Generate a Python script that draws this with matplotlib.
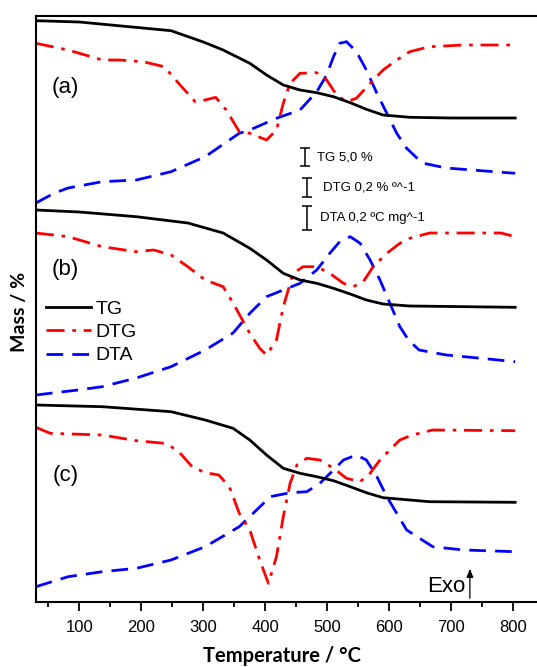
import matplotlib
matplotlib.use("Agg")
import matplotlib.pyplot as plt

# ---- data (temperature in degC, signal in arbitrary display units, increasing downward) ----
tg_a_T = [30, 100, 248, 300, 332, 375, 402, 429, 456, 483, 510, 537, 563, 590, 633, 700, 803]
tg_a_y = [20.7, 22, 30.7, 42, 50, 63.3, 75, 85, 90, 92.7, 96.7, 102.7, 109.3, 115, 117.3, 118, 118]
dtg_a_T = [30, 82, 137, 165, 203, 237, 265, 287, 303, 320, 337, 358, 375, 402, 418, 429, 440, 456, 483, 499,
           515, 531, 547, 569, 590, 612, 633, 665, 720, 803]
dtg_a_y = [43.3, 50, 60, 60, 61.7, 66.7, 86.7, 101.7, 100, 97.3, 110, 131.7, 133.3, 140, 130, 103.3, 83.3, 73.3,
           72.7, 80, 95, 101.7, 98.3, 83.3, 70, 60, 51.7, 46.7, 45, 45]
dta_a_T = [30, 60, 82, 137, 192, 248, 303, 358, 375, 418, 456, 483, 499, 510, 520, 531, 547, 563, 580, 596,
           612, 628, 653, 692, 748, 803]
dta_a_y = [203, 193, 188, 181.7, 180, 171.7, 156.7, 133.3, 130, 118.3, 110, 91.7, 75, 56.7, 43.3, 41.7, 51.7,
           70, 93.3, 113.3, 133.3, 148.3, 163, 168, 170.7, 173.3]

tg_b_T = [30, 100, 192, 275, 332, 375, 402, 429, 456, 483, 510, 537, 563, 590, 633, 803]
tg_b_y = [210, 212, 216.7, 223, 233, 248.3, 260, 273.3, 280, 283.3, 288.3, 294, 300, 304, 306, 307.3]
dtg_b_T = [30, 82, 137, 192, 220, 248, 275, 303, 332, 348, 375, 391, 402, 418, 429, 445, 461, 483, 504, 526,
           542, 558, 574, 596, 617, 633, 665, 780, 803]
dtg_b_y = [233, 236.7, 246.7, 251.7, 250, 255, 266.7, 280, 286.7, 303, 333.3, 348.3, 355, 340, 306.7, 273.3,
           266.7, 266.7, 273.3, 283.3, 286.7, 281.7, 266.7, 253.3, 243.3, 238.3, 233, 233, 236.7]
dta_b_T = [30, 98, 137, 192, 248, 303, 348, 375, 402, 429, 456, 483, 504, 520, 537, 553, 569, 585, 601, 617,
           631, 648, 692, 748, 803]
dta_b_y = [395, 390, 386.7, 378, 366.7, 350, 333, 313.3, 296.7, 290, 283.3, 270, 253.3, 241.7, 236.7, 243.3,
           260, 280, 303.3, 326.7, 340, 350, 355, 358.3, 361.7]

tg_c_T = [30, 137, 248, 303, 348, 375, 402, 429, 456, 483, 510, 537, 563, 590, 633, 665, 803]
tg_c_y = [405, 406.7, 411.7, 420, 428.3, 440, 455, 468.3, 473.3, 476.7, 480.7, 486.7, 492.7, 497.7, 500,
          501.7, 502.3]
dtg_c_T = [30, 53, 137, 192, 237, 258, 282, 303, 325, 342, 358, 375, 391, 405, 418, 429, 440, 451, 467, 488,
           510, 531, 553, 569, 585, 606, 617, 637, 670, 803]
dtg_c_y = [427.3, 433.3, 435, 440.7, 443.3, 450, 466.7, 472.7, 475, 486.7, 513.3, 530, 560, 583.3, 556.7,
           516.7, 483.3, 465, 458.3, 460, 468.3, 478.3, 481.7, 473.3, 460, 446.7, 440, 435, 430, 430.7]
dta_c_T = [30, 82, 137, 192, 248, 303, 358, 386, 408, 440, 467, 488, 510, 526, 547, 563, 580, 596, 612, 628,
           670, 720, 803]
dta_c_y = [586.7, 576.7, 571.7, 568.3, 560, 546.7, 526.7, 510, 496.7, 492.7, 491.7, 483.3, 470, 460, 455, 460,
           476.7, 496.7, 513.3, 530, 546.7, 550, 551.7]

panel_labels = ["(a)", "(b)", "(c)"]
panel_label_pos = [(77, 87), (77, 269), (78.5, 476)]
legend_labels = ["TG", "DTG", "DTA"]
scale_texts = ["TG 5,0 %", "DTG 0,2 % \u00ba^-1", "DTA 0,2 \u00baC mg^-1"]
scale_bars = [(464, 148.3, 166), (467, 178.3, 196.7), (467, 206, 230)]
scale_text_T = [484, 492.6, 489]
xticks = [100, 200, 300, 400, 500, 600, 700, 800]
xminor = [50, 150, 250, 350, 450, 550, 650, 750]

# ---- figure ----
W, H = 537, 667
fig = plt.figure(figsize=(W / 100, H / 100), dpi=100)
left_px, top_px, bottom_px, right_px = 35.7, 16, 601.7, 560
ppd = 0.62  # pixels per degree
ax = fig.add_axes([left_px / W, (H - bottom_px) / H, (right_px - left_px) / W, (bottom_px - top_px) / H])
x0 = 100 - (79.3 - left_px) / ppd
ax.set_xlim(x0, x0 + (right_px - left_px) / ppd)
ax.set_ylim(bottom_px, top_px)

lw = 2.0
black = dict(color="black", lw=lw, linestyle="-")
red = dict(color="#ff0000", lw=lw, linestyle=(0, (6.5, 2.8, 1.3, 2.8)))
blue = dict(color="#0000ff", lw=lw, linestyle=(0, (6, 3.3)))

groups = [
    (tg_a_T, tg_a_y, dtg_a_T, dtg_a_y, dta_a_T, dta_a_y),
    (tg_b_T, tg_b_y, dtg_b_T, dtg_b_y, dta_b_T, dta_b_y),
    (tg_c_T, tg_c_y, dtg_c_T, dtg_c_y, dta_c_T, dta_c_y),
]
handles = None
for i, (tT, ty, dT, dy, aT, ay) in enumerate(groups):
    h1, = ax.plot(aT, ay, **blue)
    h2, = ax.plot(dT, dy, **red)
    h3, = ax.plot(tT, ty, **black)
    if i == 1:
        handles = [h3, h2, h1]

for lab, (T, py) in zip(panel_labels, panel_label_pos):
    ax.text(T, py, lab, fontsize=16, family="Liberation Sans", ha="center", va="center")

leg = fig.legend(handles, legend_labels, loc="upper left", bbox_to_anchor=(46 / W, 1 - 300 / H),
                 bbox_transform=fig.transFigure, frameon=False,
                 prop={"family": "Liberation Sans", "size": 14},
                 handlelength=2.3, handletextpad=0.25, labelspacing=0.3, borderaxespad=0, borderpad=0)

for (T, y1, y2), txt, tT in zip(scale_bars, scale_texts, scale_text_T):
    ax.errorbar([T], [(y1 + y2) / 2], yerr=[(y2 - y1) / 2], color="black", lw=1.1, capsize=3.5, capthick=1.1)
    ax.text(tT, (y1 + y2) / 2, txt, fontsize=9.5, family="Liberation Sans", ha="left", va="center")

# Exo arrow
ax.annotate("", xy=(730, 566), xytext=(730, 601),
            arrowprops=dict(arrowstyle="-|>,head_width=0.2,head_length=0.5", color="black", lw=0.9))
ax.text(723, 587, "Exo", fontsize=16, family="Liberation Sans", ha="right", va="center")

ax.set_xticks(xticks)
ax.set_xticks(xminor, minor=True)
ax.set_yticks([])
ax.tick_params(axis="x", which="major", direction="out", length=6.5, width=1.3, labelsize=12, pad=7)
ax.tick_params(axis="x", which="minor", direction="out", length=3.5, width=1.3)
for lab in ax.get_xticklabels():
    lab.set_family("Liberation Sans")
for s in ax.spines.values():
    s.set_linewidth(1.5)

fig.text(281.5 / W, 1 - 656 / H, "Temperature / \u00b0C", fontsize=14.5, fontweight="bold", family="Lato",
         ha="center", va="center")
fig.text(19 / W, 1 - 312 / H, "Mass / %", fontsize=14, fontweight="bold", family="Lato",
         ha="center", va="center", rotation=90)

fig.savefig("out.png", dpi=100)
